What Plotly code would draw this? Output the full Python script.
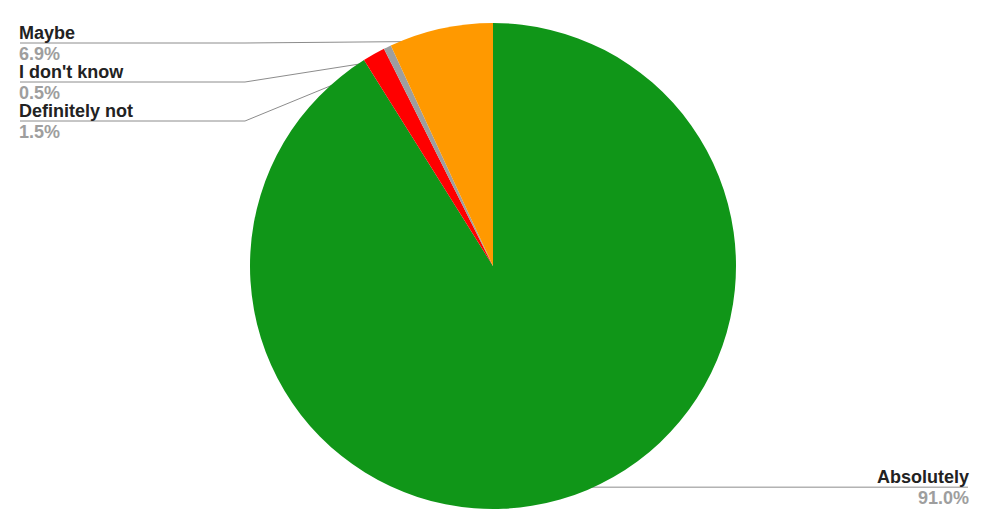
import numpy as np
import plotly.graph_objects as go

labels = ["Absolutely", "Definitely not", "I don't know", "Maybe"]
values = [91.0, 1.5, 0.5, 6.9]
pct_text = ["91.0%", "1.5%", "0.5%", "6.9%"]
colors = ["#109618", "#ff0000", "#9e9e9e", "#ff9900"]

OFF = 8  # page body margin
W, H = 987 - OFF, 523 - OFF
CX, CY, R = 493 - OFF, 266 - OFF, 243
FONT = "Liberation Sans, Arial, sans-serif"
LINE_COL = "#8c8c8c"

fig = go.Figure()
fig.add_trace(go.Pie(
    labels=labels, values=values, sort=False, direction="clockwise", rotation=0,
    marker=dict(colors=colors, line=dict(width=0)),
    textinfo="none", showlegend=False, hoverinfo="label+percent",
    domain=dict(x=[(CX - R) / W, (CX + R) / W], y=[1 - (CY + R) / H, 1 - (CY - R) / H]),
))

total = sum(values)
cum = np.cumsum([0] + values[:-1])
annotations = []
order = list(range(len(values)))
mids = [(cum[i] + values[i] / 2) / total * 2 * np.pi for i in order]
left_idx = sorted([i for i in order if np.sin(mids[i]) < 0], key=lambda i: -mids[i])
right_idx = [i for i in order if np.sin(mids[i]) >= 0]

def dot_pos(i):
    th = mids[i]
    return CX + 0.947 * R * np.sin(th), CY - 0.947 * R * np.cos(th)

def add_label(x, y, i, anchor):
    annotations.append(dict(x=x, y=y - 10, xref="x", yref="y", text="<b>%s</b>" % labels[i],
                            showarrow=False, xanchor=anchor, yanchor="middle", borderpad=0,
                            font=dict(family=FONT, size=18, color="#222222")))
    annotations.append(dict(x=x, y=y + 11, xref="x", yref="y", text="<b>%s</b>" % pct_text[i],
                            showarrow=False, xanchor=anchor, yanchor="middle", borderpad=0,
                            font=dict(family=FONT, size=18, color="#9e9e9e")))

LEFT_X, ELBOW_X, RIGHT_X = 20 - OFF, 245 - OFF, 968 - OFF
for k, i in enumerate(left_idx):
    dx, dy = dot_pos(i)
    ly = 43 - OFF + 39 * k
    fig.add_trace(go.Scatter(x=[LEFT_X, ELBOW_X, dx], y=[ly, ly, dy], mode="lines",
                             line=dict(color=LINE_COL, width=1), hoverinfo="skip", showlegend=False))
    fig.add_trace(go.Scatter(x=[dx], y=[dy], mode="markers",
                             marker=dict(color="#999999", size=5), hoverinfo="skip", showlegend=False))
    add_label(LEFT_X - 2, ly, i, "left")

for i in right_idx:
    dx, dy = dot_pos(i)
    fig.add_trace(go.Scatter(x=[dx, RIGHT_X], y=[dy, dy], mode="lines",
                             line=dict(color=LINE_COL, width=1), hoverinfo="skip", showlegend=False))
    fig.add_trace(go.Scatter(x=[dx], y=[dy], mode="markers",
                             marker=dict(color="#999999", size=5), hoverinfo="skip", showlegend=False))
    add_label(RIGHT_X + 2, dy, i, "right")

fig.update_layout(
    width=W, height=H, margin=dict(l=0, r=0, t=0, b=0),
    paper_bgcolor="white", plot_bgcolor="rgba(0,0,0,0)",
    xaxis=dict(range=[0, W], visible=False, domain=[0, 1], fixedrange=True),
    yaxis=dict(range=[H, 0], visible=False, domain=[0, 1], fixedrange=True),
    annotations=annotations,
)
fig.write_html("out.html")
